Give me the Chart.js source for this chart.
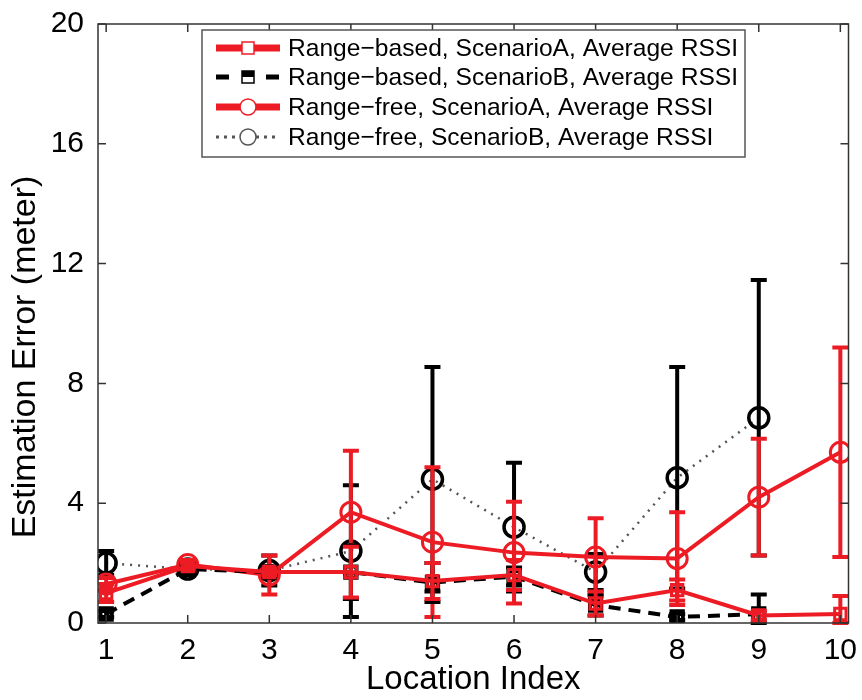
<!DOCTYPE html>
<html>
<head>
<meta charset="utf-8">
<script src="https://cdn.jsdelivr.net/npm/chart.js@4/dist/chart.umd.min.js"></script>
<style>
  html, body { margin: 0; padding: 0; background: #fff; }
  #wrap { width: 862px; height: 700px; }
</style>
</head>
<body>
<div id="wrap"><canvas id="chart" width="862" height="700"></canvas></div>
<script>
// values
const locations = [1, 2, 3, 4, 5, 6, 7, 8, 9, 10];
const xTicks = [1, 2, 3, 4, 5, 6, 7, 8, 9, 10];
const yTicks = [0, 4, 8, 12, 16, 20];

const rangeBasedA    = [1.0, 1.9, 1.7, 1.7, 1.4, 1.6, 0.65, 1.1, 0.25, 0.3];
const rangeBasedAErr = [0.3, 0.1, 0.1, 0.85, 0.6, 0.5, 0.4, 0.35, 0.15, 0.6];

const rangeBasedB    = [0.3, 1.8, 1.7, 1.7, 1.35, 1.55, 0.6, 0.2, 0.3];
const rangeBasedBErr = [0.1, 0.1, 0.1, 0.9, 0.65, 0.3, 0.35, 0.1, 0.65];

const rangeFreeA    = [1.3, 1.95, 1.6, 3.7, 2.7, 2.35, 2.2, 2.15, 4.2, 5.7];
const rangeFreeAErr = [0.2, 0.15, 0.65, 2.05, 2.5, 1.7, 1.3, 1.55, 1.95, 3.5];

const rangeFreeB    = [2.0, 1.8, 1.75, 2.4, 4.8, 3.2, 1.7, 4.85, 6.85];
const rangeFreeBErr = [0.4, 0.2, 0.5, 2.2, 3.75, 2.15, 0.6, 3.7, 4.6];

const seriesLabels = [
    'Range\u2212based, ScenarioA, Average RSSI',
    'Range\u2212based, ScenarioB, Average RSSI',
    'Range\u2212free, ScenarioA, Average RSSI',
    'Range\u2212free, ScenarioB, Average RSSI'
];
const yTitle = 'Estimation Error (meter)';

const RED = '#ed1c24';
const BLACK = '#000000';
const FONT = "'Liberation Sans', Arial, sans-serif";

function toPoints(ys) {
    return ys.map((y, i) => ({ x: locations[i], y: y }));
}

// draws vertical error bars with caps, using the chart's own scales
const errorBarPlugin = {
    id: 'errorBars',
    afterDatasetDraw(chart, args) {
        const ds = chart.data.datasets[args.index];
        if (!ds.errorBars) return;
        const ctx = chart.ctx;
        const xs = chart.scales.x, ys = chart.scales.y;
        ctx.save();
        ctx.strokeStyle = ds.errorColor || ds.borderColor;
        ctx.lineWidth = 4;
        ctx.setLineDash([]);
        ds.data.forEach((p, i) => {
            const e = ds.errorBars[i];
            const px = xs.getPixelForValue(p.x);
            const top = ys.getPixelForValue(p.y + e);
            const bot = ys.getPixelForValue(Math.max(p.y - e, 0));
            ctx.beginPath();
            ctx.moveTo(px, top); ctx.lineTo(px, bot);
            ctx.moveTo(px - 8, top); ctx.lineTo(px + 8, top);
            ctx.moveTo(px - 8, bot); ctx.lineTo(px + 8, bot);
            ctx.stroke();
        });
        ctx.restore();
    }
};

// MATLAB style box with inward ticks, y title and the boxed legend
const framePlugin = {
    id: 'frame',
    afterDraw(chart) {
        const ctx = chart.ctx;
        const a = chart.chartArea;
        const xs = chart.scales.x, ys = chart.scales.y;
        ctx.save();
        ctx.strokeStyle = '#333';
        ctx.lineWidth = 1.5;
        ctx.setLineDash([]);
        ctx.strokeRect(a.left, a.top, a.right - a.left, a.bottom - a.top);
        ctx.beginPath();
        xTicks.forEach(v => {
            const px = xs.getPixelForValue(v);
            ctx.moveTo(px, a.bottom); ctx.lineTo(px, a.bottom - 8);
            ctx.moveTo(px, a.top); ctx.lineTo(px, a.top + 8);
        });
        yTicks.forEach(v => {
            const py = ys.getPixelForValue(v);
            ctx.moveTo(a.left, py); ctx.lineTo(a.left + 8, py);
            ctx.moveTo(a.right, py); ctx.lineTo(a.right - 8, py);
        });
        ctx.stroke();

        // y title, sits a bit below the middle like in the figure
        ctx.save();
        ctx.translate(26, 357);
        ctx.rotate(-Math.PI / 2);
        ctx.font = '34px ' + FONT;
        ctx.fillStyle = '#000';
        ctx.textAlign = 'center';
        ctx.textBaseline = 'middle';
        ctx.fillText(yTitle, 0, 0);
        ctx.restore();

        // legend
        const lx = 202, ly = 30, lw = 543, lh = 127;
        ctx.fillStyle = '#fff';
        ctx.fillRect(lx, ly, lw, lh);
        ctx.strokeStyle = '#555';
        ctx.lineWidth = 1.5;
        ctx.strokeRect(lx, ly, lw, lh);
        const rows = [48, 77, 107, 137];
        ctx.font = '24.6px ' + FONT;
        ctx.textBaseline = 'middle';
        ctx.textAlign = 'left';
        chart.data.datasets.forEach((ds, i) => {
            const y = rows[i];
            const cx = 248;
            ctx.strokeStyle = ds.borderColor;
            ctx.lineWidth = ds.legendWidth;
            ctx.setLineDash(ds.legendDash || []);
            ctx.beginPath();
            ctx.moveTo(216, y); ctx.lineTo(280, y);
            ctx.stroke();
            ctx.setLineDash([]);
            ctx.lineWidth = 1.5;
            ctx.strokeStyle = ds.legendMarker;
            ctx.fillStyle = '#fff';
            ctx.beginPath();
            if (ds.pointStyle === 'rect') {
                ctx.rect(cx - 6, y - 6, 12, 12);
            } else {
                ctx.arc(cx, y, 8, 0, Math.PI * 2);
            }
            ctx.fill();
            ctx.stroke();
            if (i === 1) {
                ctx.fillStyle = '#000';
                ctx.fillRect(cx - 6, y - 6, 12, 6);
            }
            ctx.fillStyle = '#000';
            ctx.fillText(ds.label, 288, y + 1);
        });
        ctx.restore();
    }
};

new Chart(document.getElementById('chart'), {
    type: 'scatter',
    data: {
        datasets: [{
            label: seriesLabels[0],
            data: toPoints(rangeBasedA),
            errorBars: rangeBasedAErr,
            showLine: true,
            borderColor: RED,
            borderWidth: 4,
            pointStyle: 'rect',
            pointRadius: 8,
            pointBorderWidth: 3,
            pointBorderColor: RED,
            pointBackgroundColor: 'rgba(255,255,255,0)',
            legendMarker: RED,
            legendWidth: 7
        }, {
            label: seriesLabels[1],
            data: toPoints(rangeBasedB),
            errorBars: rangeBasedBErr,
            showLine: true,
            borderColor: BLACK,
            borderWidth: 4,
            borderDash: [12, 8],
            pointStyle: 'rect',
            pointRadius: 8,
            pointBorderWidth: 4,
            pointBorderColor: BLACK,
            pointBackgroundColor: 'rgba(255,255,255,0)',
            legendMarker: BLACK,
            legendWidth: 5,
            legendDash: [13, 37]
        }, {
            label: seriesLabels[2],
            data: toPoints(rangeFreeA),
            errorBars: rangeFreeAErr,
            showLine: true,
            borderColor: RED,
            borderWidth: 4,
            pointStyle: 'circle',
            pointRadius: 10,
            pointBorderWidth: 3,
            pointBorderColor: RED,
            pointBackgroundColor: 'rgba(255,255,255,0)',
            legendMarker: RED,
            legendWidth: 7
        }, {
            label: seriesLabels[3],
            data: toPoints(rangeFreeB),
            errorBars: rangeFreeBErr,
            showLine: true,
            borderColor: '#555',
            errorColor: BLACK,
            borderWidth: 2.5,
            borderDash: [2, 6],
            pointStyle: 'circle',
            pointRadius: 10,
            pointBorderWidth: 3.5,
            pointBorderColor: BLACK,
            pointBackgroundColor: 'rgba(255,255,255,0)',
            legendMarker: '#555',
            legendWidth: 3,
            legendDash: [3, 5]
        }]
    },
    options: {
        responsive: false,
        animation: false,
        layout: { padding: { top: 18, right: 10, left: 0, bottom: 0 } },
        plugins: {
            legend: { display: false },
            tooltip: { enabled: false }
        },
        scales: {
            x: {
                type: 'linear',
                min: 0.9,
                max: 10.1,
                afterBuildTicks: s => { s.ticks = xTicks.map(v => ({ value: v })); },
                afterFit: s => { s.height = 77; },
                grid: { display: false },
                border: { display: false },
                ticks: { color: '#000', font: { size: 30, family: FONT }, padding: 2 },
                title: {
                    display: true,
                    text: 'Location Index',
                    color: '#000',
                    font: { size: 33, family: FONT },
                    padding: { top: 0, bottom: 0 }
                }
            },
            y: {
                min: 0,
                max: 20,
                afterBuildTicks: s => { s.ticks = yTicks.map(v => ({ value: v })); },
                afterFit: s => { s.width = 98; },
                grid: { display: false },
                border: { display: false },
                ticks: { color: '#000', font: { size: 30, family: FONT }, padding: 6 }
            }
        }
    },
    plugins: [errorBarPlugin, framePlugin]
});
</script>
</body>
</html>
